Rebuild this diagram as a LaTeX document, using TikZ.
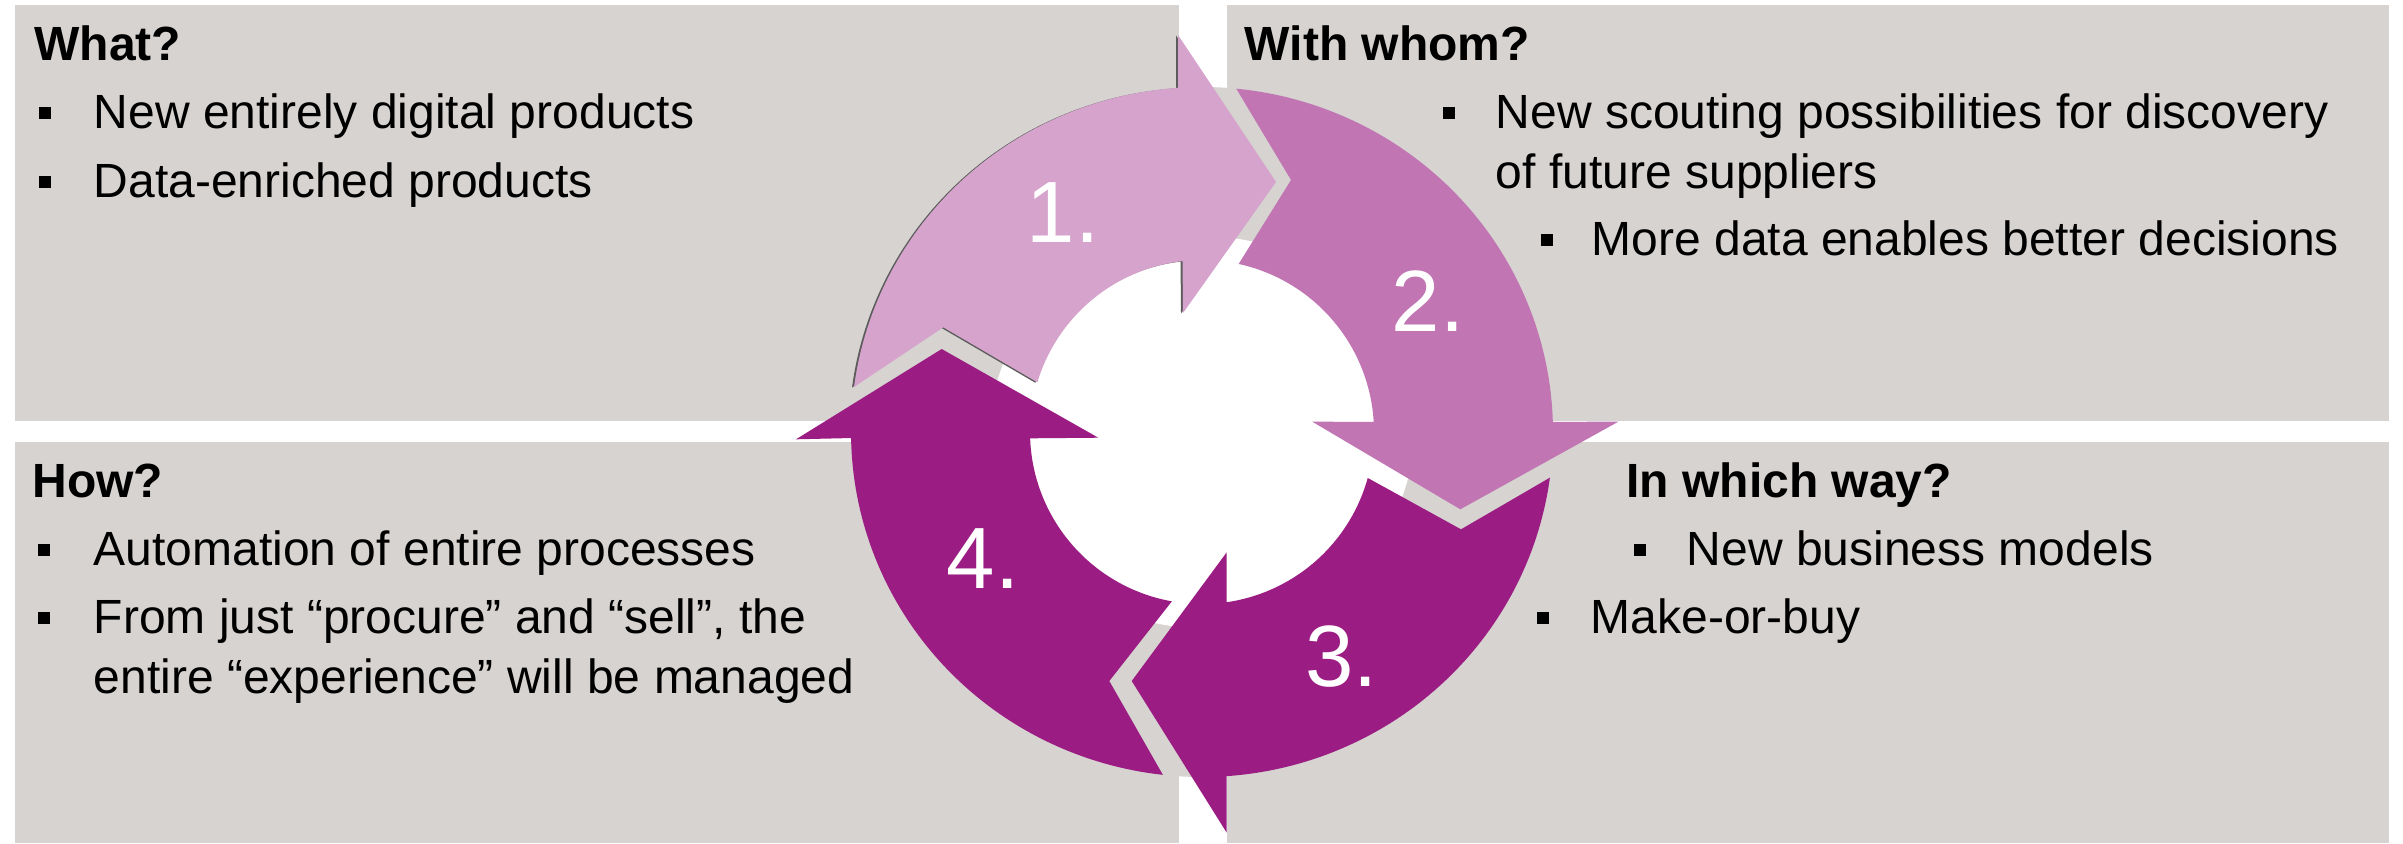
\documentclass[tikz,border=0pt]{standalone}
\usepackage{fontspec}
\setmainfont{Liberation Sans}
\definecolor{boxgrey}{HTML}{D6D3D0}
\definecolor{arrA}{HTML}{D5A3CB}
\definecolor{arrB}{HTML}{C176B3}
\definecolor{arrC}{HTML}{9B1C82}
\definecolor{shadowgrey}{HTML}{5C5C5C}
% #1 style, #2/#3 outer arc angles, #4 head outer end, #5 tip, #6 head inner end, #7/#8 inner arc angles, #9 tail notch
\newcommand{\cyclearrowshape}[9]{%
  \fill[#1] plot[variable=\t,domain=#2:#3,samples=70] ({1202+351*cos(\t)},{432-345*sin(\t)})
    -- #4 -- #5 -- #6
    -- plot[variable=\t,domain=#7:#8,samples=70] ({1202+172*cos(\t)},{432-172*sin(\t)})
    -- #9 -- cycle;}
\begin{document}
\begin{tikzpicture}[x=0.5pt,y=-0.5pt,
  txt/.style={anchor=base west, inner sep=0pt, font=\fontsize{24pt}{28pt}\selectfont},
  ttl/.style={anchor=base west, inner sep=0pt, font=\fontsize{24pt}{28pt}\selectfont\bfseries},
  bsq/.style={rectangle, fill=black, inner sep=0pt, minimum size=6pt},
  num/.style={inner sep=0pt, text=white, font=\fontsize{43.5pt}{50pt}\selectfont}]
\useasboundingbox (0,0) rectangle (2403,843);
% quadrant boxes
\fill[boxgrey] (15,5) rectangle (1179,421);
\fill[boxgrey] (1227,5) rectangle (2389,421);
\fill[boxgrey] (15,442) rectangle (1179,843);
\fill[boxgrey] (1227,442) rectangle (2389,843);
% ring backdrop
\fill[boxgrey] (1202,432) ellipse [x radius=351, y radius=345];
\fill[white] (1202,432) ellipse [x radius=212, y radius=196];
% arrow 1 with thin shadow
\begin{scope}[shift={(-2,0.5)}]
\cyclearrowshape{shadowgrey}{172.5}{93.9}{(1178,35)}{(1276,182)}{(1183,313)}{96.5}{163.2}{(943.3,327.3)}
\end{scope}
\cyclearrowshape{arrA}{172.5}{93.9}{(1178,35)}{(1276,182)}{(1183,313)}{96.5}{163.2}{(943.3,327.3)}
% arrow 2
\cyclearrowshape{arrB}{84.4}{1.7}{(1618.3,421.7)}{(1460.3,509.3)}{(1312.3,421.7)}{3.4}{77.7}{(1291,180)}
% arrow 3
\cyclearrowshape{arrC}{-7.6}{-86}{(1226.7,832.7)}{(1131.7,681)}{(1226.7,552.3)}{-81.8}{-15.5}{(1461,529.3)}
% arrow 4
\cyclearrowshape{arrC}{263.6}{181}{(796,439.3)}{(941.7,349)}{(1098.3,437.7)}{182.1}{259.9}{(1109.3,681)}
% step numbers
\node[num] (n1) at (1063,213) {1.};
\node[num] (n2) at (1428,301) {2.};
\node[num] (n3) at (1341.5,656.5) {3.};
\node[num] (n4) at (983,559) {4.};
% top left
\node[ttl] (what) at (34,60) {What?};
\node[bsq] (what1b) at (44.5,112.5) {};
\node[txt] (what1) at (93.5,128) {New entirely digital products};
\node[bsq] (what2b) at (44.5,181.5) {};
\node[txt] (what2) at (93.5,197) {Data-enriched products};
% top right
\node[ttl] (whom) at (1244.5,60) {With whom?};
\node[bsq] (whom1b) at (1448.7,112.5) {};
\node[txt] (whom1) at (1495.5,128) {New scouting possibilities for discovery};
\node[txt] (whom1c) at (1495.5,188) {of future suppliers};
\node[bsq] (whom2b) at (1546.8,239.5) {};
\node[txt] (whom2) at (1591.3,255) {More data enables better decisions};
% bottom left
\node[ttl] (how) at (32,497) {How?};
\node[bsq] (how1b) at (43.9,549.5) {};
\node[txt] (how1) at (93.5,565) {Automation of entire processes};
\node[bsq] (how2b) at (43.9,617.5) {};
\node[txt] (how2) at (93.5,633) {From just “procure” and “sell”, the};
\node[txt] (how2c) at (93.5,693) {entire “experience” will be managed};
% bottom right
\node[ttl] (way) at (1626,497) {In which way?};
\node[bsq] (way1b) at (1640,549.5) {};
\node[txt] (way1) at (1686.5,565) {New business models};
\node[bsq] (way2b) at (1543.3,617.5) {};
\node[txt] (way2) at (1590.5,633) {Make-or-buy};
\end{tikzpicture}
\end{document}
